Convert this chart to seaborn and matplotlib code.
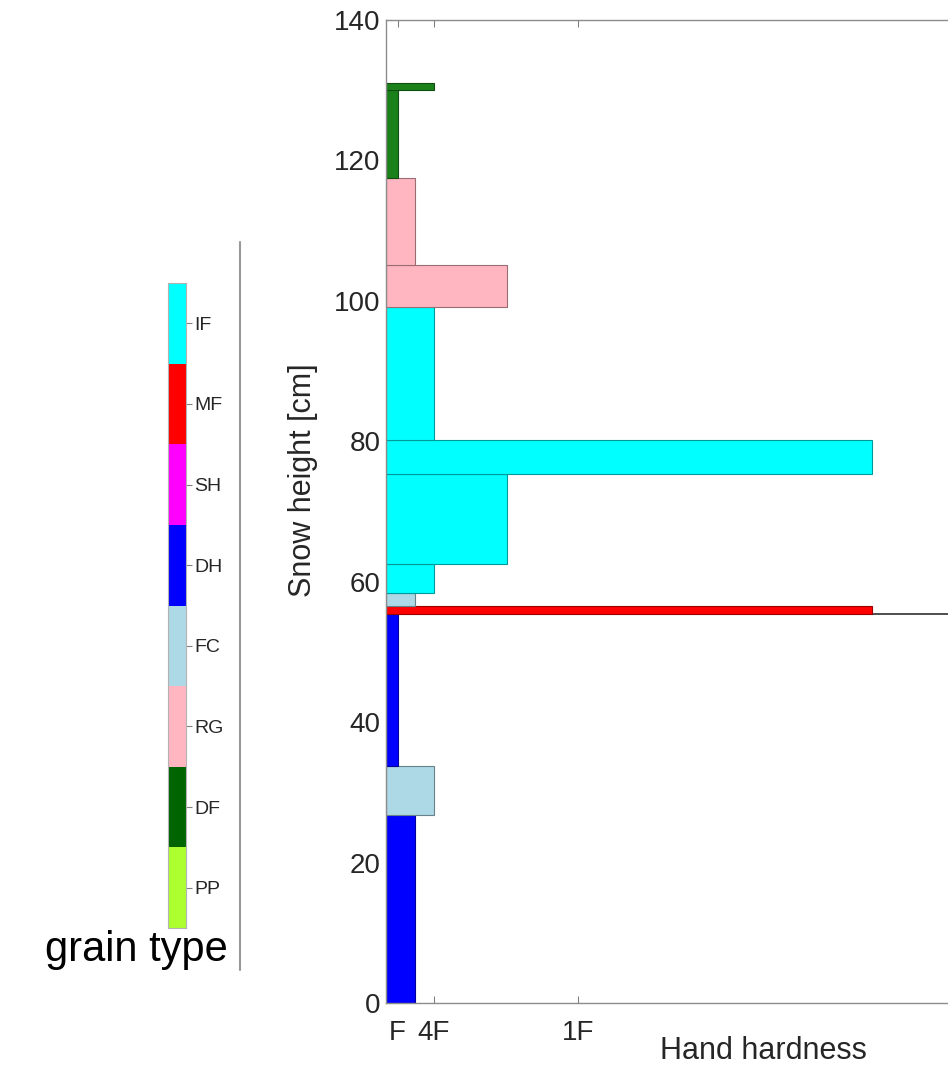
import numpy as np
import pandas as pd
import seaborn as sns
import matplotlib.pyplot as plt
from matplotlib.colors import ListedColormap, to_rgb
from matplotlib.lines import Line2D

# grain type legend (top to bottom)
grain_types = ["IF", "MF", "SH", "DH", "FC", "RG", "DF", "PP"]
grain_colors = ["#00ffff", "#ff0000", "#ff00ff", "#0000ff",
                "#add8e6", "#ffb6c1", "#006400", "#adff2f"]

# snow layers: bottom / top [cm], hand hardness, grain type
layer_bottom = [0.0, 26.8, 33.8, 55.4, 56.6, 58.4, 62.5, 75.4, 80.2, 99.1, 105.1, 117.5, 130.0]
layer_top = [26.8, 33.8, 55.4, 56.6, 58.4, 62.5, 75.4, 80.2, 99.1, 105.1, 117.5, 130.0, 131.0]
layer_hardness = [30, 50, 12, 506, 30, 50, 126, 506, 50, 126, 30, 12, 50]
layer_grain = ["DH", "FC", "DH", "MF", "FC", "IF", "IF", "IF", "IF", "RG", "RG", "DF", "DF"]

hardness_ticks = [12, 50, 200]
hardness_labels = ["F", "4F", "1F"]
surface_line = 55.4

df = pd.DataFrame({"bottom": layer_bottom, "top": layer_top,
                   "hardness": layer_hardness, "grain": layer_grain})
df["thick"] = df["top"] - df["bottom"]

sns.set_style("white")
plt.rcParams["font.family"] = ["Liberation Sans", "DejaVu Sans"]

bar_colors = dict(zip(grain_types, grain_colors))
bar_colors["DF"] = "#1a801a"

W, H = 948, 1071
fig = plt.figure(figsize=(W / 100, H / 100), dpi=100)

# main profile axes (extends past the right edge, as in the cropped original)
ax = fig.add_axes([386 / W, 1 - 1003 / H, (1164 - 386) / W, (1003 - 20) / H])
ax.axhline(surface_line, color="0.25", lw=1.3, zorder=1)
for _, r in df.iterrows():
    c = bar_colors[r["grain"]]
    edge = tuple(0.6 * np.array(to_rgb(c)))
    ax.barh(r["bottom"], r["hardness"], height=r["thick"], align="edge",
            color=c, edgecolor=edge, linewidth=0.8, zorder=2)

ax.set_ylim(0, 140)
ax.set_xlim(0, 810)
ax.set_yticks(range(0, 141, 20))
ax.set_xticks(hardness_ticks)
ax.set_xticklabels(hardness_labels)
ax.tick_params(direction="in", length=5, width=0.8, color="0.5",
               labelsize=20, labelcolor="0.15", top=True, bottom=True,
               left=True, right=True, pad=4)
ax.tick_params(axis="x", pad=12)
for s in ax.spines.values():
    s.set_color("0.55")
    s.set_linewidth(1.0)
ax.set_ylabel("Snow height [cm]", fontsize=22, color="0.15")
ax.yaxis.set_label_coords(-0.087, 0.532)
ax.set_xlabel("Hand hardness", fontsize=22, color="0.15")
ax.xaxis.set_label_coords(0.485, -0.034)

# grain type colour strip
lax = fig.add_axes([168 / W, 1 - 928 / H, 18 / W, 645 / H])
strip = pd.DataFrame({"g": np.arange(len(grain_types))}, index=grain_types)
sns.heatmap(strip, ax=lax, cmap=ListedColormap(grain_colors), cbar=False,
            vmin=-0.5, vmax=len(grain_types) - 0.5, xticklabels=False)
lax.yaxis.tick_right()
lax.set_yticklabels(grain_types, rotation=0)
lax.set_ylabel("")
lax.tick_params(axis="y", right=True, left=False, direction="out",
                length=4, width=0.8, color="0.5", labelsize=14,
                labelcolor="0.15", pad=2)
for s in lax.spines.values():
    s.set_visible(True)
    s.set_color("0.7")
    s.set_linewidth(0.8)

fig.add_artist(Line2D([240 / W, 240 / W], [1 - 970 / H, 1 - 242 / H],
                      transform=fig.transFigure, color="0.6", lw=1.5))
fig.text(228 / W, 1 - 950 / H, "grain type", fontsize=30,
         ha="right", va="center", color="black")

fig.savefig("out.png", dpi=100)
